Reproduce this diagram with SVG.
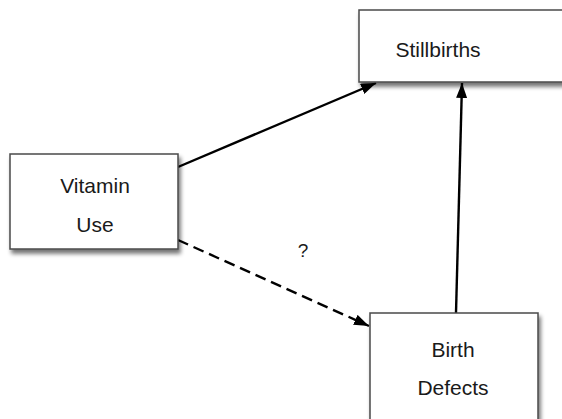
<svg xmlns="http://www.w3.org/2000/svg" width="562" height="419" viewBox="0 0 562 419">
  <style>
    .box { fill: #ffffff; stroke: #4a4a4a; stroke-width: 1.5; filter: url(#shadow); }
    .label { font-family: "Liberation Sans", Arial, sans-serif; font-size: 21px; fill: #1a1a1a; text-anchor: middle; }
    .edge { stroke: #000000; stroke-width: 2.4; fill: none; marker-end: url(#arrow); }
    .dashed { stroke-dasharray: 11 6; }
  </style>
  <defs>
    <filter id="shadow" x="-10%" y="-10%" width="130%" height="140%">
      <feGaussianBlur in="SourceAlpha" stdDeviation="2"/>
      <feOffset dx="2" dy="4" result="blur"/>
      <feComponentTransfer><feFuncA type="linear" slope="0.55"/></feComponentTransfer>
      <feMerge><feMergeNode/><feMergeNode in="SourceGraphic"/></feMerge>
    </filter>
    <marker id="arrow" viewBox="0 0 15 11" refX="15" refY="5.5" markerWidth="15" markerHeight="11" markerUnits="userSpaceOnUse" orient="auto">
      <path d="M0,0 L15,5.5 L0,11 Z" fill="#000000"/>
    </marker>
  </defs>

  <g id="connectors">
    <line class="edge" x1="178" y1="167" x2="376" y2="83"/>
    <line class="edge" x1="456" y1="313" x2="462" y2="83"/>
    <line class="edge dashed" x1="178" y1="240" x2="369" y2="326"/>
    <text class="label" x="303" y="257" style="font-size:19px">?</text>
  </g>

  <g id="stillbirths">
    <rect class="box" x="359" y="10" width="225" height="72"/>
    <text class="label" x="438" y="57">Stillbirths</text>
  </g>

  <g id="vitamin-use">
    <rect class="box" x="10" y="154" width="168" height="95"/>
    <text class="label" x="95" y="193">Vitamin</text>
    <text class="label" x="95" y="232">Use</text>
  </g>

  <g id="birth-defects">
    <rect class="box" x="370" y="313" width="168" height="120"/>
    <text class="label" x="453" y="357">Birth</text>
    <text class="label" x="453" y="395">Defects</text>
  </g>
</svg>
